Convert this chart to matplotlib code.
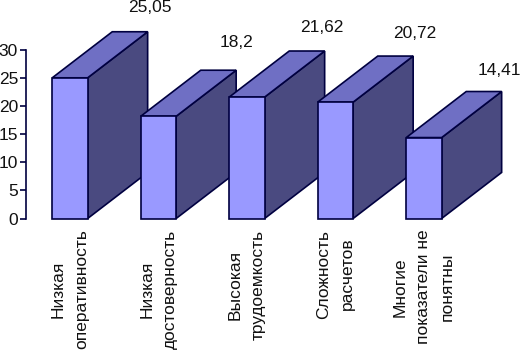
import matplotlib
matplotlib.use("Agg")
import matplotlib.pyplot as plt

CATEGORIES = [
    "Низкая\nоперативность",
    "Низкая\nдостоверность",
    "Высокая\nтрудоемкость",
    "Сложность\nрасчетов",
    "Многие\nпоказатели не\nпонятны",
]
VALUES = [25.05, 18.2, 21.62, 20.72, 14.41]
Y_TICKS = [0, 5, 10, 15, 20, 25, 30]

# hand placed value labels, pixels from the back top right corner of each bar
LABEL_OFFSETS = [(2, 24), (0, 28), (-3, 24), (2, 23), (-2, 21)]

FRONT = "#9999FF"
TOP = "#6F6FC4"
SIDE = "#4A4A80"
EDGE = "#000040"

WIDTH = 0.40
DEPTH_X = 0.678
DEPTH_Y = 8.2

W, H = 520, 350
plt.rcParams["font.family"] = ["Liberation Sans", "DejaVu Sans"]
plt.rcParams["font.size"] = 12.5

fig = plt.figure(figsize=(W / 100, H / 100), dpi=100)
ax = fig.add_axes([25.7 / W, 1 - 218.5 / H, 442.5 / W, 168.5 / H])

for i, v in enumerate(VALUES):
    l, r = i - WIDTH / 2, i + WIDTH / 2
    ax.fill([r, r + DEPTH_X, r + DEPTH_X, r], [0, DEPTH_Y, v + DEPTH_Y, v],
            facecolor=SIDE, edgecolor=EDGE, lw=1.2, clip_on=False, zorder=3 + i)
    ax.fill([l, l + DEPTH_X, r + DEPTH_X, r], [v, v + DEPTH_Y, v + DEPTH_Y, v],
            facecolor=TOP, edgecolor=EDGE, lw=1.2, clip_on=False, zorder=3 + i)
    ax.bar(i, v, WIDTH, color=FRONT, edgecolor=EDGE, lw=1.2, clip_on=False, zorder=3 + i)
    dx, dy = LABEL_OFFSETS[i]
    ax.annotate(str(v).replace(".", ","), (r + DEPTH_X, v + DEPTH_Y),
                xytext=(dx * 0.72, dy * 0.72), textcoords="offset points",
                ha="center", va="center", color="#111111", annotation_clip=False)

ax.set_xlim(-0.5, 4.5)
ax.set_ylim(0, 30)
ax.set_yticks(Y_TICKS)
ax.set_xticks(range(len(CATEGORIES)))
ax.set_xticklabels(CATEGORIES, rotation=90, va="top", ha="center",
                   multialignment="center", linespacing=1.7, color="#111111")
ax.tick_params(axis="x", length=0, pad=8)
ax.tick_params(axis="y", length=4, width=1.2, color=EDGE, pad=1.5, labelcolor="#111111")
for side in ["top", "right", "bottom"]:
    ax.spines[side].set_visible(False)
ax.spines["left"].set_color(EDGE)
ax.spines["left"].set_linewidth(1.2)
ax.patch.set_visible(False)

fig.savefig("out.png", dpi=100)
